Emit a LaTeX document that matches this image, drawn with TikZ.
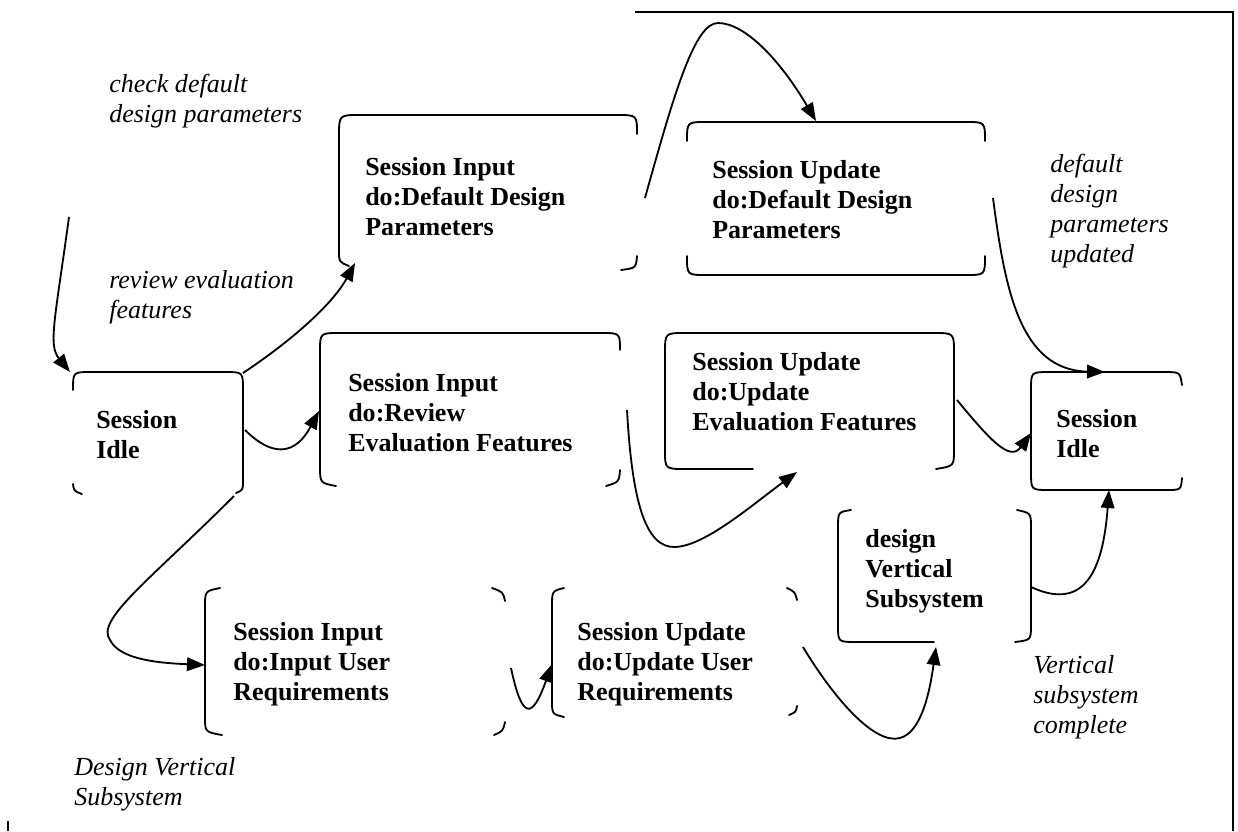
\documentclass[tikz,border=0pt]{standalone}
\usepackage{fontspec}
\setmainfont{Liberation Serif}
\usetikzlibrary{arrows.meta}
\begin{document}
\begin{tikzpicture}[x=0.025cm,y=-0.025cm,
  outline/.style={line width=1.3pt, line cap=round},
  conn/.style={line width=1.3pt, -{Triangle[length=0.45cm,width=0.34cm]}},
  state/.style={anchor=base west, inner sep=0pt, font=\fontsize{18.5}{21.34}\selectfont\bfseries},
  note/.style={anchor=base west, inner sep=0pt, font=\fontsize{18.5}{21.34}\selectfont\itshape},
]
\useasboundingbox (0,0) rectangle (1238,831);

% frame pieces
\draw[line width=1pt] (635,12) -- (1233,12) -- (1233,831);
\draw[line width=0.8pt] (8,821) -- (8,831);

% ---- state texts
\node[state] (tIdleA) at (96,428) {\begin{tabular}[t]{@{}l@{}}Session\\Idle\end{tabular}};
\node[state] (tA) at (365,175) {\begin{tabular}[t]{@{}l@{}}Session Input\\do:Default Design\\Parameters\end{tabular}};
\node[state] (tB) at (712,178) {\begin{tabular}[t]{@{}l@{}}Session Update\\do:Default Design\\Parameters\end{tabular}};
\node[state] (tC) at (348,391) {\begin{tabular}[t]{@{}l@{}}Session Input\\do:Review\\Evaluation Features\end{tabular}};
\node[state] (tF) at (692,370) {\begin{tabular}[t]{@{}l@{}}Session Update\\do:Update\\Evaluation Features\end{tabular}};
\node[state] (tIdleB) at (1056,427) {\begin{tabular}[t]{@{}l@{}}Session\\Idle\end{tabular}};
\node[state] (tG) at (865,547) {\begin{tabular}[t]{@{}l@{}}design\\Vertical\\Subsystem\end{tabular}};
\node[state] (tD) at (233,640) {\begin{tabular}[t]{@{}l@{}}Session Input\\do:Input User\\Requirements\end{tabular}};
\node[state] (tE) at (577,640) {\begin{tabular}[t]{@{}l@{}}Session Update\\do:Update User\\Requirements\end{tabular}};

% ---- transition labels
\node[note] (lCheck) at (109,92) {\begin{tabular}[t]{@{}l@{}}check default\\design parameters\end{tabular}};
\node[note] (lReview) at (109,288) {\begin{tabular}[t]{@{}l@{}}review evaluation\\features\end{tabular}};
\node[note] (lUpdated) at (1050,172) {\begin{tabular}[t]{@{}l@{}}default\\design\\parameters\\updated\end{tabular}};
\node[note] (lDesign) at (74,775) {\begin{tabular}[t]{@{}l@{}}Design Vertical\\Subsystem\end{tabular}};
\node[note] (lComplete) at (1033,673) {\begin{tabular}[t]{@{}l@{}}Vertical\\subsystem\\complete\end{tabular}};

% ---- state outlines (only the inked parts)
% Session Idle (left)
\draw[outline] (73,390) .. controls (73,372) .. (91,372) -- (225,372) .. controls (243,372) .. (243,390) -- (243,480) .. controls (243,490) .. (236,493);
\draw[outline] (73,484) .. controls (74,491) .. (82,494);
% Session Input / Default Design Parameters
\draw[outline] (349,266) .. controls (339,262) .. (339,250) -- (339,137) .. controls (339,115) .. (359,115) -- (617,115) .. controls (637,115) .. (637,134);
\draw[outline] (621,270) .. controls (636,268) .. (637,256);
% Session Update / Default Design Parameters
\draw[outline] (687,141) .. controls (687,122) .. (706,122) -- (966,122) .. controls (985,122) .. (985,141);
\draw[outline] (687,256) .. controls (687,275) .. (706,275) -- (966,275) .. controls (985,275) .. (985,256);
% Session Input / Review Evaluation Features
\draw[outline] (336,486) .. controls (320,483) .. (320,466) -- (320,352) .. controls (320,333) .. (339,333) -- (601,333) .. controls (620,333) .. (620,350);
\draw[outline] (606,486) .. controls (619,482) .. (620,470);
% Session Update / Update Evaluation Features
\draw[outline] (753,469) -- (685,469) .. controls (665,469) .. (665,450) -- (665,353) .. controls (665,333) .. (685,333) -- (934,333) .. controls (954,333) .. (954,353) -- (954,450) .. controls (954,466) .. (936,469);
% Session Idle (right)
\draw[outline] (1182,385) .. controls (1180,372) .. (1164,372) -- (1049,372) .. controls (1031,372) .. (1031,390) -- (1031,472) .. controls (1031,490) .. (1049,490) -- (1166,490) .. controls (1181,490) .. (1182,478);
% design Vertical Subsystem
\draw[outline] (934,642) -- (856,642) .. controls (838,642) .. (838,625) -- (838,528) .. controls (838,512) .. (851,510);
\draw[outline] (1017,510) .. controls (1031,513) .. (1031,528) -- (1031,625) .. controls (1031,640) .. (1015,642);
% Session Input / Input User Requirements
\draw[outline] (220,588) .. controls (205,591) .. (205,607) -- (205,717) .. controls (205,732) .. (222,735);
\draw[outline] (492,588) .. controls (503,592) .. (505,601);
\draw[outline] (494,735) .. controls (503,731) .. (505,722);
% Session Update / Update User Requirements
\draw[outline] (564,588) .. controls (552,591) .. (552,607) -- (552,700) .. controls (552,714) .. (564,717);
\draw[outline] (787,588) .. controls (795,592) .. (797,600);
\draw[outline] (789,715) .. controls (796,712) .. (797,706);

% ---- connector end points
\coordinate (start) at (69,217);
\coordinate (idleA-in) at (70,372);
\coordinate (idleA-ne) at (243,373);
\coordinate (idleA-e) at (245,430);
\coordinate (idleA-se) at (234,496);
\coordinate (A-in) at (355,263);
\coordinate (A-out) at (645,198);
\coordinate (B-in) at (816,121);
\coordinate (B-out) at (993,198);
\coordinate (C-in) at (319,411);
\coordinate (C-out) at (627,410);
\coordinate (F-in) at (797,472);
\coordinate (F-out) at (957,400);
\coordinate (idleB-top) at (1105,372);
\coordinate (idleB-w) at (1031,433);
\coordinate (idleB-bot) at (1109,490);
\coordinate (D-in) at (205,665);
\coordinate (D-out) at (511,668);
\coordinate (E-in) at (552,664);
\coordinate (E-out) at (803,647);
\coordinate (G-in) at (936,647);
\coordinate (G-out) at (1031,587);

% ---- transitions
\draw[conn] (start) .. controls (55,320) and (48,345) .. (idleA-in);
\draw[conn] (idleA-ne) .. controls (300,335) and (335,300) .. (A-in);
\draw[conn] (idleA-e) .. controls (262,447) and (290,465) .. (C-in);
\draw[conn] (idleA-se) .. controls (150,580) and (95,620) .. (110,640) .. controls (120,660) and (160,663) .. (D-in);
\draw[conn] (A-out) .. controls (675,90) and (695,23) .. (718,23) .. controls (745,23) and (780,60) .. (B-in);
\draw[conn] (B-out) .. controls (1005,290) and (1020,370) .. (idleB-top);
\draw[conn] (C-out) .. controls (632,500) and (645,548) .. (675,547) .. controls (705,546) and (752,505) .. (F-in);
\draw[conn] (F-out) .. controls (990,440) and (1010,462) .. (idleB-w);
\draw[conn] (G-out) .. controls (1085,612) and (1103,570) .. (idleB-bot);
\draw[conn] (D-out) .. controls (522,720) and (532,720) .. (E-in);
\draw[conn] (E-out) .. controls (835,700) and (875,745) .. (900,738) .. controls (922,732) and (930,690) .. (G-in);
\end{tikzpicture}
\end{document}
